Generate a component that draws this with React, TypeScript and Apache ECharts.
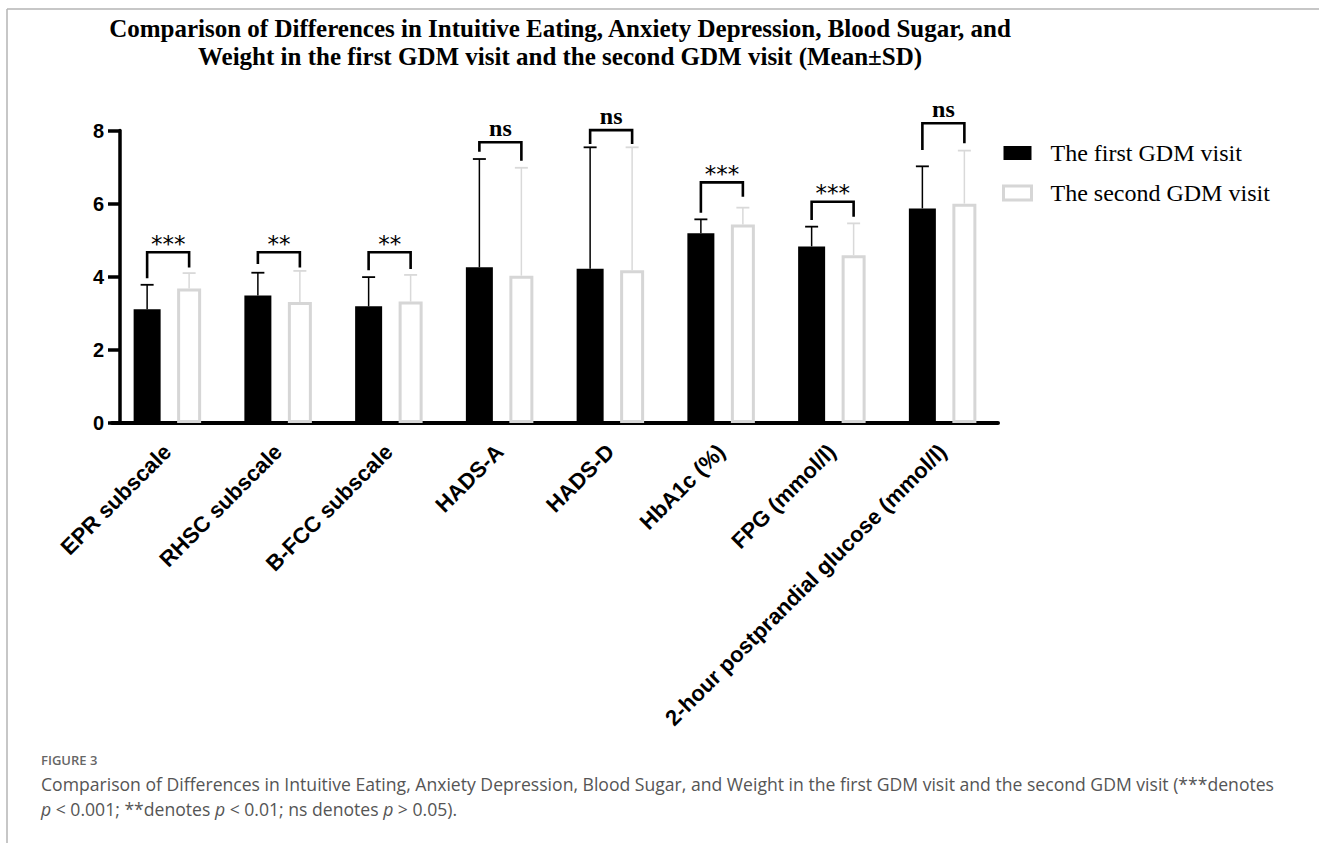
import React, { useEffect, useRef } from "react";
import * as echarts from "echarts";

const categories = [
  "EPR subscale",
  "RHSC subscale",
  "B-FCC subscale",
  "HADS-A",
  "HADS-D",
  "HbA1c (%)",
  "FPG (mmol/l)",
  "2-hour postprandial glucose (mmol/l)",
];
const firstMean = [3.11, 3.49, 3.19, 4.26, 4.22, 5.19, 4.83, 5.87];
const firstSD = [0.67, 0.62, 0.8, 2.96, 3.32, 0.38, 0.54, 1.15];
const secondMean = [3.68, 3.31, 3.32, 4.03, 4.18, 5.43, 4.59, 6.0];
const secondSD = [0.42, 0.85, 0.73, 2.95, 3.36, 0.46, 0.87, 1.45];
// significance brackets: [top, left leg bottom, right leg bottom]
const bracketTop = [4.67, 4.67, 4.67, 7.68, 8.01, 6.58, 6.05, 8.2];
const bracketLeft = [3.96, 4.35, 4.18, 7.42, 7.63, 5.75, 5.55, 7.47];
const bracketRight = [4.25, 4.25, 4.21, 7.17, 7.63, 6.19, 5.64, 7.65];
const sigLabels = ["***", "**", "**", "ns", "ns", "***", "***", "ns"];
const yTicks = [0, 2, 4, 6, 8];
const seriesNames = ["The first GDM visit", "The second GDM visit"];

const titleText =
  "Comparison of Differences in Intuitive Eating, Anxiety Depression, Blood Sugar, and\nWeight in the first GDM visit and the second GDM visit (Mean±SD)";
const captionHead = "FIGURE 3";
const captionLine1 =
  "Comparison of Differences in Intuitive Eating, Anxiety Depression, Blood Sugar, and Weight in the first GDM visit and the second GDM visit (***denotes";
const captionLine2 = "{i|p} < 0.001; **denotes {i|p} < 0.01; ns denotes {i|p} > 0.05).";

const BLACK_W = 27;
const GRAY_W = 24;
const GAP = 0.611;
const sumW = BLACK_W + BLACK_W * GAP + GRAY_W;
const OFF1 = -sumW / 2 + BLACK_W / 2;
const OFF2 = -sumW / 2 + BLACK_W * (1 + GAP) + GRAY_W / 2;

export default function App() {
  const ref = useRef<HTMLDivElement>(null);
  useEffect(() => {
    if (!ref.current) return;
    const chart = echarts.init(ref.current, null, { renderer: "svg" });

    const errRender = (offset: number, color: string) => (params: any, api: any) => {
      const i = api.value(0);
      const lo = api.coord([i, api.value(1)]);
      const hi = api.coord([i, api.value(2)]);
      const x = lo[0] + offset;
      return {
        type: "group",
        children: [
          { type: "line", shape: { x1: x, y1: lo[1], x2: x, y2: hi[1] }, style: { stroke: color, lineWidth: 1.5 } },
          { type: "line", shape: { x1: x - 6.5, y1: hi[1], x2: x + 6.5, y2: hi[1] }, style: { stroke: color, lineWidth: 1.8 } },
        ],
      };
    };

    const option: any = {
      animation: false,
      backgroundColor: "#ffffff",
      title: {
        text: titleText,
        left: 555,
        top: 9,
        textAlign: "center",
        textStyle: {
          fontFamily: "Liberation Serif",
          fontWeight: "bold",
          fontSize: 25,
          lineHeight: 28,
          color: "#000",
        },
      },
      legend: {
        orient: "vertical",
        left: 1002,
        top: 139,
        padding: 0,
        itemWidth: 28,
        itemHeight: 14,
        itemGap: 12,
        textStyle: {
          fontFamily: "Liberation Serif",
          fontSize: 24,
          color: "#000",
          lineHeight: 28,
          padding: [0, 0, 0, 14],
        },
        data: [
          { name: seriesNames[0], icon: "rect", itemStyle: { color: "#000" } },
          { name: seriesNames[1], icon: "rect", itemStyle: { color: "#fff", borderColor: "#d6d6d6", borderWidth: 3 } },
        ],
      },
      grid: { left: 112, top: 130.5, right: 321, bottom: 420 },
      xAxis: {
        type: "category",
        data: categories,
        axisLine: { lineStyle: { color: "#000", width: 4 } },
        axisTick: { alignWithLabel: true, length: 12, lineStyle: { color: "#000", width: 3.5 } },
        axisLabel: {
          rotate: 45,
          margin: 25,
          interval: 0,
          fontFamily: "Liberation Sans",
          fontWeight: "bold",
          fontSize: 22,
          color: "#000",
        },
      },
      yAxis: {
        type: "value",
        min: yTicks[0],
        max: yTicks[yTicks.length - 1],
        interval: 2,
        offset: -8,
        axisLine: { show: true, lineStyle: { color: "#000", width: 3.5 } },
        axisTick: { show: true, length: 12, lineStyle: { color: "#000", width: 3.5 } },
        axisLabel: {
          margin: 16,
          fontFamily: "Liberation Sans",
          fontWeight: "bold",
          fontSize: 20,
          color: "#000",
        },
        splitLine: { show: false },
      },
      series: [
        {
          name: seriesNames[0],
          type: "bar",
          data: firstMean,
          barWidth: BLACK_W,
          barGap: GAP * 100 + "%",
          itemStyle: { color: "#000" },
          z: 2,
        },
        {
          name: seriesNames[1],
          type: "bar",
          data: secondMean,
          barWidth: GRAY_W,
          barGap: GAP * 100 + "%",
          itemStyle: { color: "#fff", borderColor: "#d6d6d6", borderWidth: 3 },
          z: 2,
        },
        {
          type: "custom",
          name: "err1",
          renderItem: errRender(OFF1, "#000"),
          data: firstMean.map((m, i) => [i, m, m + firstSD[i]]),
          z: 3,
          clip: false,
        },
        {
          type: "custom",
          name: "err2",
          renderItem: errRender(OFF2, "#d9d9d9"),
          data: secondMean.map((m, i) => [i, m, m + secondSD[i]]),
          z: 1,
          clip: false,
        },
        {
          type: "custom",
          name: "sig",
          clip: false,
          z: 4,
          data: categories.map((_, i) => [i, bracketTop[i], bracketLeft[i], bracketRight[i]]),
          renderItem: (params: any, api: any) => {
            const i = api.value(0);
            const top = api.coord([i, api.value(1)]);
            const lb = api.coord([i, api.value(2)]);
            const rb = api.coord([i, api.value(3)]);
            const xl = top[0] + OFF1;
            const xr = top[0] + OFF2;
            const lab = sigLabels[params.dataIndex];
            const isNs = lab === "ns";
            return {
              type: "group",
              children: [
                {
                  type: "polyline",
                  shape: { points: [[xl, lb[1]], [xl, top[1]], [xr, top[1]], [xr, rb[1]]] },
                  style: { stroke: "#000", lineWidth: 2.6, fill: null },
                },
                {
                  type: "text",
                  style: {
                    text: lab,
                    x: (xl + xr) / 2,
                    y: isNs ? top[1] - 2 : top[1] + 3,
                    align: "center",
                    verticalAlign: "bottom",
                    textAlign: "center",
                    textVerticalAlign: "bottom",
                    font: isNs ? "bold 24px 'Liberation Serif'" : "23px 'DejaVu Sans'",
                    fill: "#000",
                  },
                },
              ],
            };
          },
        },
      ],
      graphic: [
        { type: "line", shape: { x1: 7, y1: 9, x2: 1319, y2: 9 }, style: { stroke: "#b5b5b5", lineWidth: 1.5 } },
        { type: "line", shape: { x1: 7, y1: 9, x2: 7, y2: 843 }, style: { stroke: "#b5b5b5", lineWidth: 1.5 } },
        {
          type: "text",
          left: 41,
          top: 753,
          style: { text: captionHead, font: "600 13px 'Open Sans'", fill: "#666" },
        },
        {
          type: "text",
          left: 41,
          top: 775,
          style: { text: captionLine1, font: "17.6px 'Open Sans'", fill: "#555" },
        },
        {
          type: "text",
          left: 41,
          top: 800,
          style: {
            text: captionLine2,
            font: "17.6px 'Open Sans'",
            fill: "#555",
            rich: { i: { fontStyle: "italic", fontFamily: "Open Sans", fontSize: 17.6, fill: "#555", color: "#555" } },
          },
        },
      ],
    };
    chart.setOption(option);
    return () => chart.dispose();
  }, []);
  return (
    <div
      ref={ref}
      style={{ position: "absolute", left: 0, top: 0, width: 1319, height: 843, background: "#fff" }}
    />
  );
}
